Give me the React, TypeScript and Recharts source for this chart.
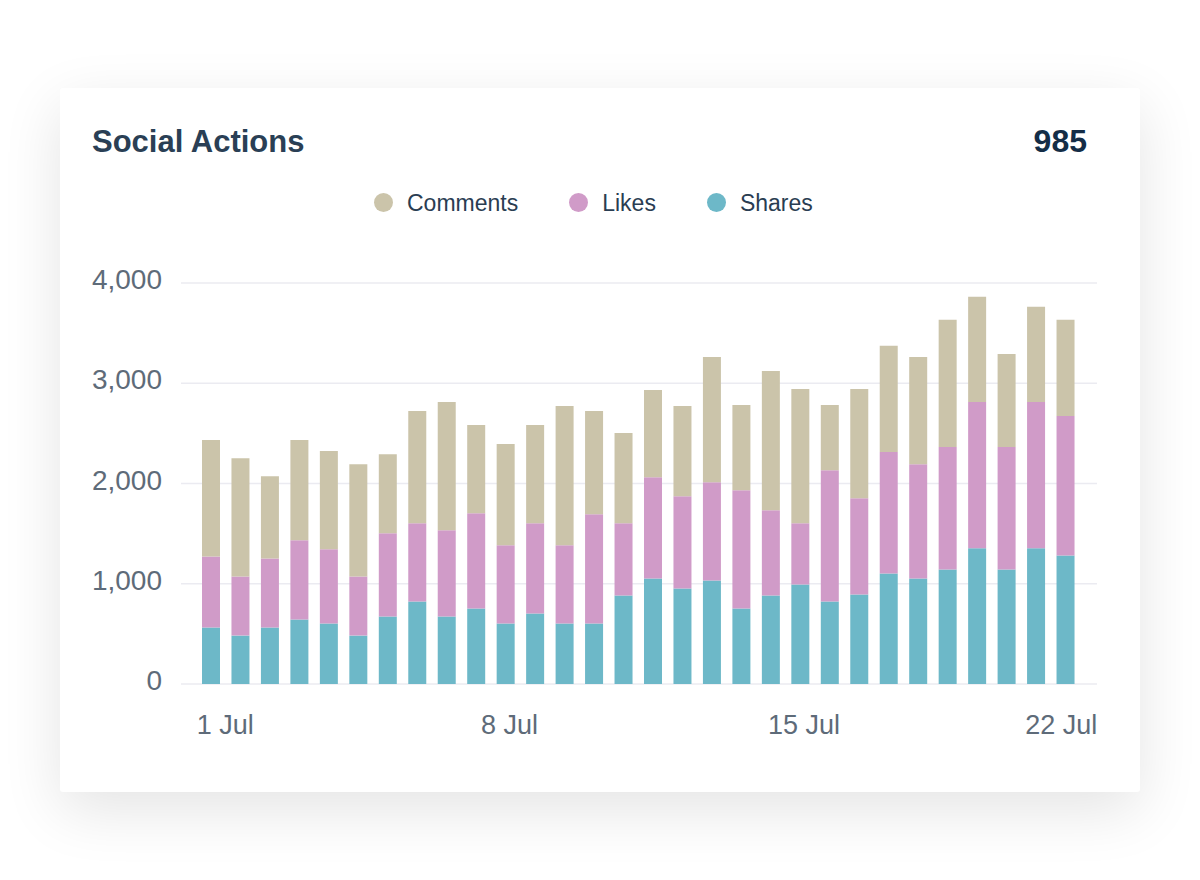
import React from 'react';
import { BarChart, Bar, XAxis, YAxis, CartesianGrid } from 'recharts';

// one bar per reporting slot
const slots = [1, 2, 3, 4, 5, 6, 7, 8, 9, 10, 11, 12, 13, 14, 15, 16, 17, 18, 19, 20, 21, 22, 23, 24, 25, 26, 27, 28, 29, 30];

const shares = [563, 483, 563, 643, 603, 483, 673, 823, 673, 753, 603, 703, 603, 603, 883, 1053, 953, 1033, 753, 883, 993, 823, 893, 1103, 1053, 1143, 1353, 1143, 1353, 1283];
const likes = [710, 590, 690, 790, 740, 590, 830, 780, 860, 950, 780, 900, 780, 1090, 720, 1010, 920, 980, 1180, 850, 610, 1310, 960, 1210, 1140, 1220, 1460, 1220, 1460, 1390];
const comments = [1160, 1180, 820, 1000, 980, 1120, 790, 1120, 1280, 880, 1010, 980, 1390, 1030, 900, 870, 900, 1250, 850, 1390, 1340, 650, 1090, 1060, 1070, 1270, 1050, 930, 950, 960];

const tickSlots = [1, 11, 21, 30];
const tickLabels = ['1 Jul', '8 Jul', '15 Jul', '22 Jul'];
const yTicks = [0, 1000, 2000, 3000, 4000];

const TOTAL = '985';

const SERIES = [
  { key: 'comments', name: 'Comments', color: '#cbc4aa' },
  { key: 'likes', name: 'Likes', color: '#d09bc8' },
  { key: 'shares', name: 'Shares', color: '#6db8c8' },
];

const FONT = '"Liberation Sans", Arial, Helvetica, sans-serif';
const AXIS_COLOR = '#5e6b79';

const data = slots.map((slot, i) => ({
  slot,
  shares: shares[i],
  likes: likes[i],
  comments: comments[i],
}));

function XTick({ x, y, payload }: any) {
  const i = tickSlots.indexOf(payload.value);
  if (i < 0) return null;
  let anchor: 'start' | 'middle' | 'end' = 'middle';
  let dx = 4;
  if (i === 0) {
    anchor = 'start';
    dx = -14;
  } else if (i === tickSlots.length - 1) {
    anchor = 'end';
    dx = 32;
  }
  return (
    <text x={x + dx} y={y + 50} textAnchor={anchor} fill={AXIS_COLOR} fontSize={27} fontFamily={FONT}>
      {tickLabels[i]}
    </text>
  );
}

function YTick({ x, y, payload }: any) {
  return (
    <text x={x} y={y + 6} textAnchor="end" fill={AXIS_COLOR} fontSize={28} fontFamily={FONT}>
      {Number(payload.value).toLocaleString('en-US')}
    </text>
  );
}

export default function App() {
  return (
    <div style={{ position: 'absolute', left: 0, top: 0, width: 1200, height: 880, background: '#fff', fontFamily: FONT }}>
      <div
        style={{
          position: 'absolute',
          left: 60,
          top: 88,
          width: 1080,
          height: 704,
          background: '#fff',
          borderRadius: 3,
          boxShadow: '0 18px 60px rgba(0, 0, 0, 0.11)',
        }}
      >
        <div style={{ position: 'absolute', left: 32, top: 38, fontSize: 31, lineHeight: 1, fontWeight: 700, color: '#2a3f55' }}>
          Social Actions
        </div>
        <div style={{ position: 'absolute', right: 53, top: 37, fontSize: 32, lineHeight: 1, fontWeight: 700, color: '#142d47' }}>
          {TOTAL}
        </div>

        <div style={{ position: 'absolute', left: 314, top: 104, display: 'flex', alignItems: 'center', gap: 51 }}>
          {SERIES.map((s) => (
            <div key={s.key} style={{ display: 'flex', alignItems: 'center' }}>
              <span style={{ width: 19, height: 19, borderRadius: '50%', background: s.color, marginRight: 14, marginTop: -2 }} />
              <span style={{ fontSize: 23, lineHeight: 1, color: '#2a3d52' }}>{s.name}</span>
            </div>
          ))}
        </div>

        <div style={{ position: 'absolute', left: 0, top: 0 }}>
          <BarChart width={1080} height={704} data={data} margin={{ top: 195, right: 43, bottom: 78, left: 0 }}>
            <CartesianGrid vertical={false} stroke="#ebebf1" strokeWidth={1.5} />
            <XAxis
              dataKey="slot"
              ticks={tickSlots}
              interval={0}
              axisLine={false}
              tickLine={false}
              tickSize={0}
              tickMargin={0}
              height={30}
              padding={{ left: 15, right: 17 }}
              tick={<XTick />}
            />
            <YAxis
              domain={[0, 4000]}
              ticks={yTicks}
              width={121}
              axisLine={false}
              tickLine={false}
              tickSize={0}
              tickMargin={19}
              tick={<YTick />}
            />
            <Bar dataKey="shares" stackId="a" fill="#6db8c8" barSize={18} isAnimationActive={false} />
            <Bar dataKey="likes" stackId="a" fill="#d09bc8" barSize={18} isAnimationActive={false} />
            <Bar dataKey="comments" stackId="a" fill="#cbc4aa" barSize={18} isAnimationActive={false} />
          </BarChart>
        </div>
      </div>
    </div>
  );
}
